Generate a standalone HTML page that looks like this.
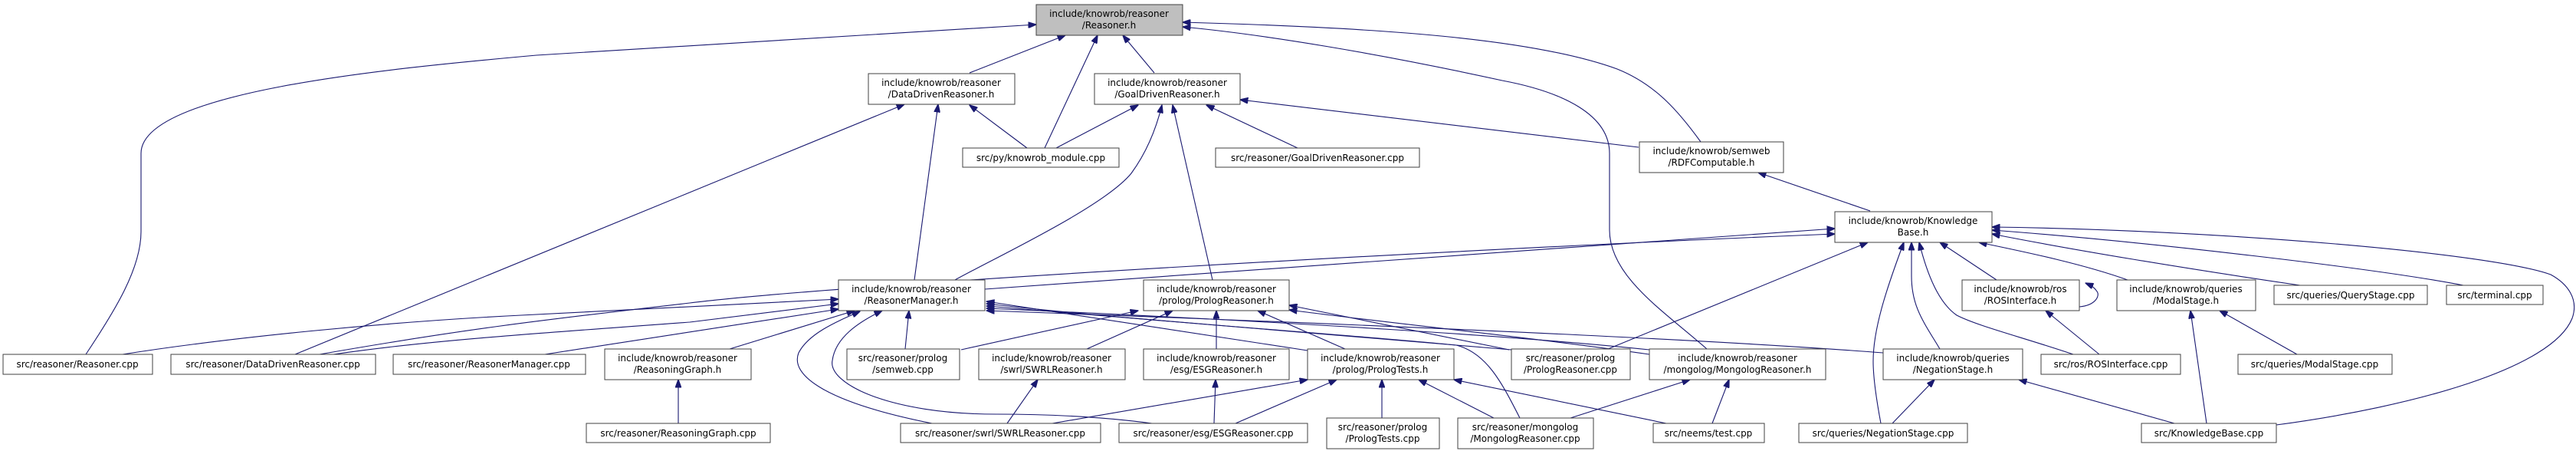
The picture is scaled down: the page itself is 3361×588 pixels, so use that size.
<!DOCTYPE html>
<html><head><meta charset="utf-8"><style>
html,body{margin:0;padding:0;background:#fff}
svg{display:block}
text{font-family:"DejaVu Sans","Liberation Sans",sans-serif;font-size:12px;fill:#000;text-anchor:middle}
.n{fill:#fff;stroke:#404040;stroke-width:1}
.e{fill:none;stroke:#191970;stroke-width:1.1}
</style></head><body>
<svg width="3361" height="588" viewBox="0 0 3361 588" xmlns="http://www.w3.org/2000/svg">
<defs><marker id="a" markerWidth="11" markerHeight="8" refX="10.5" refY="4" orient="auto" markerUnits="userSpaceOnUse"><path d="M0,0 L11,4 L0,8 z" fill="#191970" stroke="#191970"/></marker></defs>
<g class="e" marker-end="url(#a)">
<!-- into Reasoner.h -->
<path d="M1265,95 L1390,46"/>
<path d="M1363,193 L1432,46"/>
<path d="M1506,95 L1465,46"/>
<path d="M112,462 C150,405 184,350 184,302 L184,200 C184,120 500,90 700,72 L1352,32"/>
<path d="M2219,185 C2190,145 2160,110 2110,90 C2000,50 1800,36 1543,29"/>
<path d="M2227,455 C2170,405 2100,360 2100,300 L2100,200 C2100,150 2040,120 1960,105 C1800,70 1650,45 1543,35"/>
<!-- into DataDrivenReasoner.h -->
<path d="M1340,193 L1265,137"/>
<path d="M1193,365 L1224,136"/>
<path d="M385,462 L1180,136"/>
<!-- into GoalDrivenReasoner.h -->
<path d="M1378,193 L1485,137"/>
<path d="M1693,193 L1574,137"/>
<path d="M1246,365 C1300,335 1440,270 1476,226 C1495,200 1508,170 1516,137"/>
<path d="M1582,365 L1530,137"/>
<path d="M2138,192 L1618,130"/>
<!-- into RDFComputable.h -->
<path d="M2440,275 L2294,225"/>
<!-- into KnowledgeBase.h -->
<path d="M1285,377 L2394,298"/>
<path d="M417,462 C600,430 700,418 900,395 C1100,370 1900,325 2394,305"/>
<path d="M2098,455 L2437,316"/>
<path d="M3001,372 C2850,350 2700,325 2599,305"/>
<path d="M3214,372 C3100,350 2800,315 2599,300"/>
<path d="M2970,554 C3150,530 3330,480 3356,415 C3365,390 3350,370 3328,358 C3250,330 2900,300 2599,296"/>
<path d="M2776,365 C2720,345 2650,330 2582,316"/>
<path d="M2605,365 L2531,316"/>
<path d="M2705,462 C2640,440 2580,425 2553,411 C2530,395 2515,360 2504,316"/>
<path d="M2531,455 C2510,420 2494,400 2494,360 L2494,316"/>
<path d="M2454,552 C2448,520 2444,490 2444,471 C2444,430 2460,380 2484,316"/>
<!-- ROSInterface -->
<path d="M2713,400 C2735,398 2740,385 2736,380 C2732,374 2728,372 2721,369"/>
<path d="M2739,462 L2669,405"/>
<!-- ModalStage.h -->
<path d="M2997,462 L2896,405"/>
<path d="M2879,552 L2858,405"/>
<!-- into ReasonerManager.h -->
<path d="M160,462 C300,440 500,420 680,411 L1094,390"/>
<path d="M435,462 C550,445 680,436 900,420 L1094,396"/>
<path d="M711,462 L1094,403"/>
<path d="M952,455 L1115,405"/>
<path d="M1216,552 C1080,525 1030,490 1042,460 C1055,435 1090,420 1122,406"/>
<path d="M1503,552 C1450,545 1380,540 1300,540 C1160,540 1080,500 1086,470 C1090,440 1120,420 1151,405"/>
<path d="M1181,455 L1186,405"/>
<path d="M1706,457 L1287,393"/>
<path d="M1983,545 C1960,500 1940,460 1900,450 C1750,435 1500,420 1287,396"/>
<path d="M1972,456 L1287,399"/>
<path d="M2152,456 C2000,440 1700,420 1287,402"/>
<path d="M2457,460 C2200,440 1700,420 1287,405"/>
<!-- into PrologReasoner.h -->
<path d="M1254,456 L1485,405"/>
<path d="M1418,455 L1530,405"/>
<path d="M1587,455 L1587,405"/>
<path d="M1755,455 L1641,405"/>
<path d="M1969,456 L1682,398"/>
<path d="M2152,462 C2000,440 1800,420 1682,404"/>
<!-- row 5 -->
<path d="M885,552 L885,495"/>
<path d="M1314,552 L1354,495"/>
<path d="M1584,552 L1586,495"/>
<path d="M1373,552 L1706,495"/>
<path d="M1612,552 L1744,495"/>
<path d="M1803,545 L1803,495"/>
<path d="M1949,545 L1851,495"/>
<path d="M2174,552 L1897,495"/>
<path d="M2049,545 L2205,495"/>
<path d="M2234,552 L2256,495"/>
<path d="M2469,552 L2524,495"/>
<path d="M2837,552 L2634,495"/>
</g>
<!-- nodes -->
<rect x="1352" y="6" width="191" height="40" fill="#bfbfbf" stroke="#404040"/>
<text x="1447" y="22">include/knowrob/reasoner</text><text x="1447" y="37">/Reasoner.h</text>
<rect class="n" x="1133" y="96" width="191" height="40"/><text x="1228" y="112">include/knowrob/reasoner</text><text x="1228" y="127">/DataDrivenReasoner.h</text>
<rect class="n" x="1428" y="96" width="190" height="40"/><text x="1523" y="112">include/knowrob/reasoner</text><text x="1523" y="127">/GoalDrivenReasoner.h</text>
<rect class="n" x="1256" y="193" width="204" height="25"/><text x="1358" y="210">src/py/knowrob_module.cpp</text>
<rect class="n" x="1586" y="193" width="266" height="25"/><text x="1719" y="210">src/reasoner/GoalDrivenReasoner.cpp</text>
<rect class="n" x="2139" y="185" width="188" height="40"/><text x="2233" y="201">include/knowrob/semweb</text><text x="2233" y="216">/RDFComputable.h</text>
<rect class="n" x="2394" y="276" width="205" height="40"/><text x="2496" y="292">include/knowrob/Knowledge</text><text x="2496" y="307">Base.h</text>
<rect class="n" x="1094" y="365" width="191" height="40"/><text x="1189" y="381">include/knowrob/reasoner</text><text x="1189" y="396">/ReasonerManager.h</text>
<rect class="n" x="1492" y="365" width="190" height="40"/><text x="1587" y="381">include/knowrob/reasoner</text><text x="1587" y="396">/prolog/PrologReasoner.h</text>
<rect class="n" x="2560" y="365" width="153" height="40"/><text x="2636" y="381">include/knowrob/ros</text><text x="2636" y="396">/ROSInterface.h</text>
<rect class="n" x="2762" y="365" width="181" height="40"/><text x="2852" y="381">include/knowrob/queries</text><text x="2852" y="396">/ModalStage.h</text>
<rect class="n" x="2967" y="372" width="200" height="25"/><text x="3067" y="389">src/queries/QueryStage.cpp</text>
<rect class="n" x="3192" y="372" width="126" height="25"/><text x="3255" y="389">src/terminal.cpp</text>
<rect class="n" x="4" y="462" width="195" height="26"/><text x="101" y="479">src/reasoner/Reasoner.cpp</text>
<rect class="n" x="223" y="462" width="267" height="26"/><text x="356" y="479">src/reasoner/DataDrivenReasoner.cpp</text>
<rect class="n" x="513" y="462" width="251" height="26"/><text x="638" y="479">src/reasoner/ReasonerManager.cpp</text>
<rect class="n" x="789" y="455" width="191" height="40"/><text x="884" y="471">include/knowrob/reasoner</text><text x="884" y="486">/ReasoningGraph.h</text>
<rect class="n" x="1105" y="455" width="147" height="40"/><text x="1178" y="471">src/reasoner/prolog</text><text x="1178" y="486">/semweb.cpp</text>
<rect class="n" x="1277" y="455" width="191" height="40"/><text x="1372" y="471">include/knowrob/reasoner</text><text x="1372" y="486">/swrl/SWRLReasoner.h</text>
<rect class="n" x="1492" y="455" width="190" height="40"/><text x="1587" y="471">include/knowrob/reasoner</text><text x="1587" y="486">/esg/ESGReasoner.h</text>
<rect class="n" x="1706" y="455" width="191" height="40"/><text x="1801" y="471">include/knowrob/reasoner</text><text x="1801" y="486">/prolog/PrologTests.h</text>
<rect class="n" x="1972" y="455" width="155" height="40"/><text x="2049" y="471">src/reasoner/prolog</text><text x="2049" y="486">/PrologReasoner.cpp</text>
<rect class="n" x="2152" y="455" width="230" height="40"/><text x="2267" y="471">include/knowrob/reasoner</text><text x="2267" y="486">/mongolog/MongologReasoner.h</text>
<rect class="n" x="2457" y="455" width="182" height="40"/><text x="2548" y="471">include/knowrob/queries</text><text x="2548" y="486">/NegationStage.h</text>
<rect class="n" x="2663" y="462" width="182" height="26"/><text x="2754" y="479">src/ros/ROSInterface.cpp</text>
<rect class="n" x="2920" y="462" width="201" height="26"/><text x="3020" y="479">src/queries/ModalStage.cpp</text>
<rect class="n" x="765" y="552" width="240" height="25"/><text x="885" y="569">src/reasoner/ReasoningGraph.cpp</text>
<rect class="n" x="1175" y="552" width="261" height="25"/><text x="1305" y="569">src/reasoner/swrl/SWRLReasoner.cpp</text>
<rect class="n" x="1460" y="552" width="246" height="25"/><text x="1583" y="569">src/reasoner/esg/ESGReasoner.cpp</text>
<rect class="n" x="1731" y="545" width="147" height="40"/><text x="1804" y="561">src/reasoner/prolog</text><text x="1804" y="576">/PrologTests.cpp</text>
<rect class="n" x="1902" y="545" width="177" height="40"/><text x="1990" y="561">src/reasoner/mongolog</text><text x="1990" y="576">/MongologReasoner.cpp</text>
<rect class="n" x="2157" y="552" width="145" height="25"/><text x="2229" y="569">src/neems/test.cpp</text>
<rect class="n" x="2347" y="552" width="220" height="25"/><text x="2457" y="569">src/queries/NegationStage.cpp</text>
<rect class="n" x="2794" y="552" width="176" height="25"/><text x="2882" y="569">src/KnowledgeBase.cpp</text>
</svg>
</body></html>
